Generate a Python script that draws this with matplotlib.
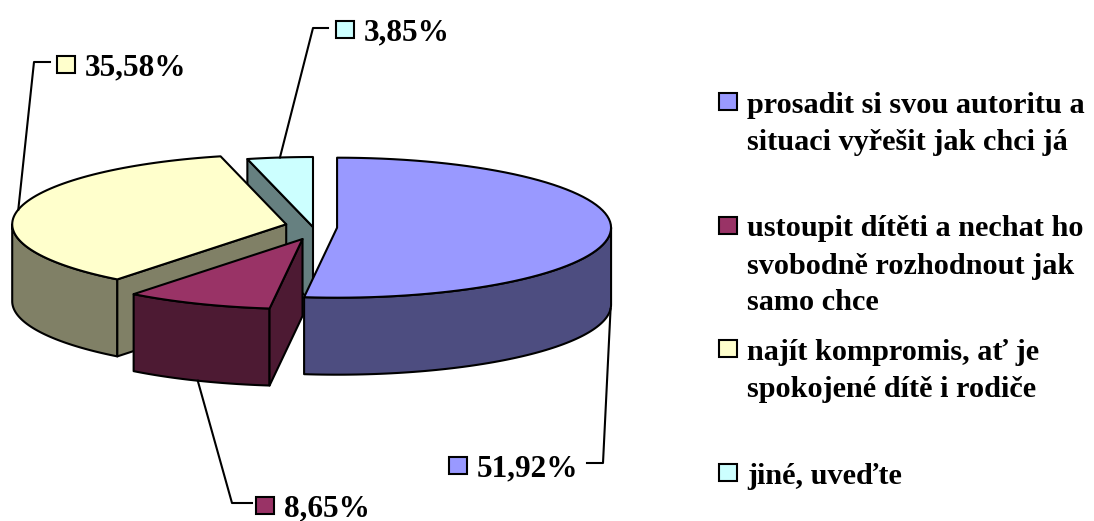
import numpy as np
import matplotlib.pyplot as plt
from matplotlib.patches import Polygon, Rectangle

# data
categories = ["prosadit si svou autoritu a\nsituaci vyřešit jak chci já",
              "ustoupit dítěti a nechat ho\nsvobodně rozhodnout jak\nsamo chce",
              "najít kompromis, ať je\nspokojené dítě i rodiče",
              "jiné, uveďte"]
shares = [51.92, 8.65, 35.58, 3.85]
value_labels = ["51,92%", "8,65%", "35,58%", "3,85%"]
top_colors = ["#9999FF", "#993366", "#FFFFCC", "#CCFFFF"]

# pie layout (pixel space)
CX, CY = 313, 227
RX, RY = 274, 70
DEPTH = 77
explode = [0.088, 0.1, 0.1, 0.0]
EXPLODE_Y = 1.86

# label layout: elbow of leader, end of horizontal piece, marker left x / centre y
elbows = [(603, 463), (232, 503), (34, 62), (313, 28)]
elbow_ends = [(587, 463), (252, 503), (50, 62), (328, 28)]
label_pos = [(449, 465), (256, 505), (57, 64), (336, 29)]

plt.rcParams['font.family'] = ['Liberation Serif', 'DejaVu Serif']
FS = 22.5
FS_LEG = 21.8
LW = 1.5

fig = plt.figure(figsize=(10.94, 5.21), dpi=100)
ax = fig.add_axes([0, 0, 1, 1])
ax.set_xlim(0, 1094)
ax.set_ylim(521, 0)
ax.axis('off')


def darker(c, f=0.5):
    r, g, b = [int(c[k:k + 2], 16) for k in (1, 3, 5)]
    return (r / 255 * f, g / 255 * f, b / 255 * f)


def arc(cx, cy, t1, t2, dz=0, n=80):
    t = np.linspace(t1, t2, n)
    return np.column_stack([cx + RX * np.sin(t), cy - RY * np.cos(t) + dz])


bounds = np.concatenate([[0], np.cumsum(shares)]) / np.sum(shares) * 2 * np.pi
mids = (bounds[:-1] + bounds[1:]) / 2
order = np.argsort(-np.cos(mids))  # back to front

for rank, i in enumerate(order):
    t1, t2, m = bounds[i], bounds[i + 1], mids[i]
    cx = CX + explode[i] * RX * np.sin(m)
    cy = CY - explode[i] * RY * EXPLODE_Y * np.cos(m)
    side = darker(top_colors[i])
    z = 2 + rank
    kw = dict(edgecolor='black', linewidth=LW, joinstyle='round')

    # outer wall (front half only)
    a, b = max(t1, np.pi / 2), min(t2, 3 * np.pi / 2)
    if a < b:
        top = arc(cx, cy, a, b)
        bot = arc(cx, cy, a, b, DEPTH)[::-1]
        ax.add_patch(Polygon(np.vstack([top, bot]), facecolor=side, zorder=z, **kw))
    # cut faces
    for t, vis in ((t1, np.sin(t1) < -1e-6), (t2, np.sin(t2) > 1e-6)):
        if vis:
            px, py = cx + RX * np.sin(t), cy - RY * np.cos(t)
            pts = [(cx, cy), (px, py), (px, py + DEPTH), (cx, cy + DEPTH)]
            ax.add_patch(Polygon(pts, facecolor=side, zorder=z, **kw))
    # top face
    pts = np.vstack([[cx, cy], arc(cx, cy, t1, t2)])
    ax.add_patch(Polygon(pts, facecolor=top_colors[i], zorder=z + 0.5, **kw))

    # leader line + value label
    axp = cx + RX * np.sin(m)
    ayp = cy - RY * np.cos(m) + (DEPTH if np.cos(m) < 0 else 0)
    ex, ey = elbows[i]
    fx, fy = elbow_ends[i]
    ax.plot([axp, ex, fx], [ayp, ey, fy], color='black', lw=LW, zorder=20)
    lx, ly = label_pos[i]
    ax.add_patch(Rectangle((lx, ly - 8.5), 18, 17, facecolor=top_colors[i],
                           edgecolor='black', linewidth=LW, zorder=20))
    ax.text(lx + 28, ly + 11, value_labels[i], fontsize=FS, fontweight='bold',
            va='baseline', ha='left', zorder=20)

# legend
for i, lab in enumerate(categories):
    base = 113 + 123.5 * i
    ax.add_patch(Rectangle((719, base - 20), 18, 17, facecolor=top_colors[i],
                           edgecolor='black', linewidth=LW, zorder=20))
    for k, line in enumerate(lab.split('\n')):
        ax.text(747, base + 37 * k, line, fontsize=FS_LEG, fontweight='bold',
                va='baseline', ha='left')

fig.savefig('out.png', dpi=100)
plt.close()
